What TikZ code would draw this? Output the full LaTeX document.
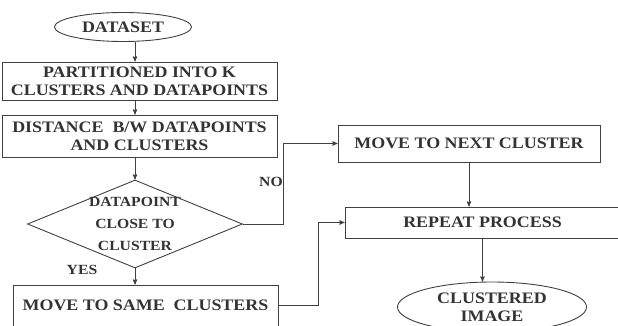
\documentclass[tikz,border=0pt]{standalone}
\usepackage{fontspec}
\setmainfont[FakeStretch=1.12]{Liberation Serif}
\usetikzlibrary{arrows,shapes.geometric}

\begin{document}
\begin{tikzpicture}[->,>=stealth',line width=0.9pt,draw=black!75,x=1pt,y=-1pt,
                    font=\fontsize{16}{18}\selectfont\bfseries]
\tikzstyle{every node}=[align=center,text=black!80]
\tikzstyle{stepbox}=[draw,rectangle,inner sep=0pt]
\tikzstyle{terminal}=[draw,ellipse,inner sep=0pt]
\tikzstyle{decision}=[draw,diamond,inner sep=-22pt,
                      font=\fontsize{14}{22}\selectfont\bfseries]
\useasboundingbox (0,0) rectangle (618,326);

\node[terminal,minimum width=137pt,minimum height=29pt] (DATA) at (123,27) {DATASET};
\node[stepbox,minimum width=275pt,minimum height=38pt] (PART) at (139.5,81)
     {PARTITIONED INTO K\\CLUSTERS AND DATAPOINTS};
\node[stepbox,minimum width=275pt,minimum height=42pt] (DIST) at (139.5,136)
     {DISTANCE~ B/W DATAPOINTS\\AND CLUSTERS};
\node[decision,minimum width=215pt,minimum height=88pt] (CLOSE) at (135,224)
     {DATAPOINT\\CLOSE TO\\CLUSTER};
\node[stepbox,minimum width=265pt,minimum height=41pt] (SAME) at (145.5,305.5)
     {MOVE TO SAME~ CLUSTERS};
\node[stepbox,minimum width=262pt,minimum height=37pt] (NEXT) at (469,143.5)
     {MOVE TO NEXT CLUSTER};
\node[stepbox,minimum width=275pt,minimum height=31pt] (REP) at (482.5,222.5)
     {REPEAT PROCESS};
\node[terminal,minimum width=189pt,minimum height=50pt] (IMG) at (492,307)
     {CLUSTERED\\IMAGE};
\node[font=\fontsize{14}{16}\selectfont\bfseries] (NO) at (271,182) {NO};
\node[font=\fontsize{14}{16}\selectfont\bfseries] (YES) at (82,270) {YES};
\coordinate (NOturn) at (283,224);
\coordinate (YESturn) at (318,305.5);

\path (CLOSE.north |- DATA.south) edge (CLOSE.north |- PART.north)
      (CLOSE.north |- PART.south) edge (CLOSE.north |- DIST.north)
      (CLOSE.north |- DIST.south) edge (CLOSE.north)
      (CLOSE.south) edge (CLOSE.south |- SAME.north)
      (NEXT.south) edge (NEXT.south |- REP.north)
      (REP.south) edge (REP.south |- IMG.north);
\draw (CLOSE.east) -- (NOturn) |- (NEXT.west);
\draw (SAME.east) -- (YESturn) |- (REP.west);
\end{tikzpicture}
\end{document}
